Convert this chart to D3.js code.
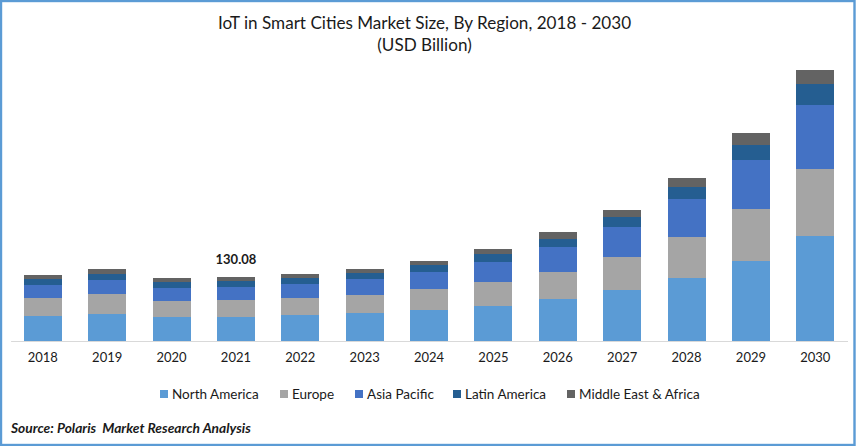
<!DOCTYPE html>
<html>
<head>
<meta charset="utf-8">
<script src="https://cdn.jsdelivr.net/npm/d3@7"></script>
<style>
    html, body { margin: 0; padding: 0; background: #fff; }
    svg { display: block; }
    text { font-family: Lato, "Noto Sans", sans-serif; fill: #1a1a1a; }
</style>
</head>
<body>
<div class="chart"></div>
<script>
var years = ["2018", "2019", "2020", "2021", "2022", "2023", "2024", "2025", "2026", "2027", "2028", "2029", "2030"]
var regions = ["North America", "Europe", "Asia Pacific", "Latin America", "Middle East & Africa"]
var colors = ["#5b9bd5", "#a5a5a5", "#4472c4", "#255e91", "#636363"]

// USD billion
var north_america = [50.8, 54.9, 48.8, 48.8, 52.8, 56.9, 63.0, 71.1, 85.4, 103.7, 128.0, 162.6, 213.4]
var europe = [36.6, 40.7, 32.5, 34.55, 34.6, 36.6, 42.7, 48.8, 54.9, 67.1, 83.3, 105.7, 136.2]
var asia_pacific = [26.4, 28.5, 26.4, 26.4, 28.5, 32.5, 34.6, 40.7, 50.8, 61.0, 77.2, 99.6, 130.1]
var latin_america = [12.2, 12.2, 12.2, 12.2, 12.2, 12.2, 14.2, 16.3, 16.3, 20.3, 24.4, 30.5, 42.7]
var middle_east_africa = [8.1, 10.2, 8.1, 8.13, 8.1, 8.1, 8.1, 10.2, 14.2, 14.2, 18.3, 24.4, 28.5]

var labelled_year = "2021"
var labelled_value = "130.08"

var width = 856, height = 446, baseline = 341

var svg = d3.select(".chart").append("svg")
    .attr("width", width)
    .attr("height", height)

// blue frame round the whole picture
svg.append("rect")
    .attr("x", 1).attr("y", 1)
    .attr("width", width - 2.5).attr("height", height - 2)
    .attr("fill", "none")
    .attr("stroke", "#5b9bd5")
    .attr("stroke-width", 2.4)

svg.append("text")
    .attr("x", 424.5).attr("y", 29)
    .attr("text-anchor", "middle")
    .attr("font-size", 17.1)
    .text("IoT in Smart Cities Market Size, By Region, 2018 - 2030")

svg.append("text")
    .attr("x", 424.5).attr("y", 51)
    .attr("text-anchor", "middle")
    .attr("font-size", 17.1)
    .text("(USD Billion)")

var x = d3.scaleBand()
    .domain(years)
    .range([10.6, 847.5])
    .paddingInner(0.41)
    .paddingOuter(0.205)

var y = d3.scaleLinear()
    .domain([0, 560])
    .range([baseline, 65.5])

// stack input
var rows = years.map(function (year, i) {
    return {
        year: year,
        "North America": north_america[i],
        "Europe": europe[i],
        "Asia Pacific": asia_pacific[i],
        "Latin America": latin_america[i],
        "Middle East & Africa": middle_east_africa[i]
    }
})

var stacked = d3.stack().keys(regions)(rows)

svg.selectAll("g.layer")
    .data(stacked)
    .enter()
    .append("g")
        .attr("class", "layer")
        .attr("fill", function (d, i) { return colors[i] })
    .selectAll("rect")
    .data(function (d) { return d })
    .enter()
    .append("rect")
        .attr("shape-rendering", "crispEdges")
        .attr("x", function (d) { return x(d.data.year) })
        .attr("width", x.bandwidth())
        .attr("y", function (d) { return y(d[1]) })
        .attr("height", function (d) { return y(d[0]) - y(d[1]) })

var axis = svg.append("g")
    .attr("transform", "translate(0," + baseline + ")")
    .call(d3.axisBottom(x).tickSize(0).tickPadding(12))

axis.select(".domain").attr("stroke", "#d9d9d9").attr("stroke-width", 1.2)
axis.selectAll("text")
    .style("font-family", "Lato, 'Noto Sans', sans-serif")
    .attr("font-size", 13)
    .attr("fill", "#1a1a1a")

var label_total = d3.sum(stacked, function (layer) {
    return layer[years.indexOf(labelled_year)][1] - layer[years.indexOf(labelled_year)][0]
})

svg.append("text")
    .attr("x", x(labelled_year) + x.bandwidth() / 2)
    .attr("y", y(label_total) - 13)
    .attr("text-anchor", "middle")
    .attr("font-size", 13)
    .attr("font-weight", "bold")
    .text(labelled_value)

// legend
var legend_x = [160, 280, 355, 453, 567]

var legend = svg.selectAll("g.legend")
    .data(regions)
    .enter()
    .append("g")
        .attr("class", "legend")
        .attr("transform", function (d, i) { return "translate(" + legend_x[i] + ",390)" })

legend.append("rect")
    .attr("width", 8)
    .attr("height", 8)
    .attr("fill", function (d, i) { return colors[i] })

legend.append("text")
    .attr("x", 12)
    .attr("y", 9)
    .attr("font-size", 13.5)
    .text(function (d) { return d })

svg.append("text")
    .attr("x", 11).attr("y", 433)
    .attr("font-size", 13.8)
    .attr("font-weight", "bold")
    .attr("font-style", "italic")
    .text("Source: Polaris  Market Research Analysis")
    .style("white-space", "pre")
</script>
</body>
</html>
